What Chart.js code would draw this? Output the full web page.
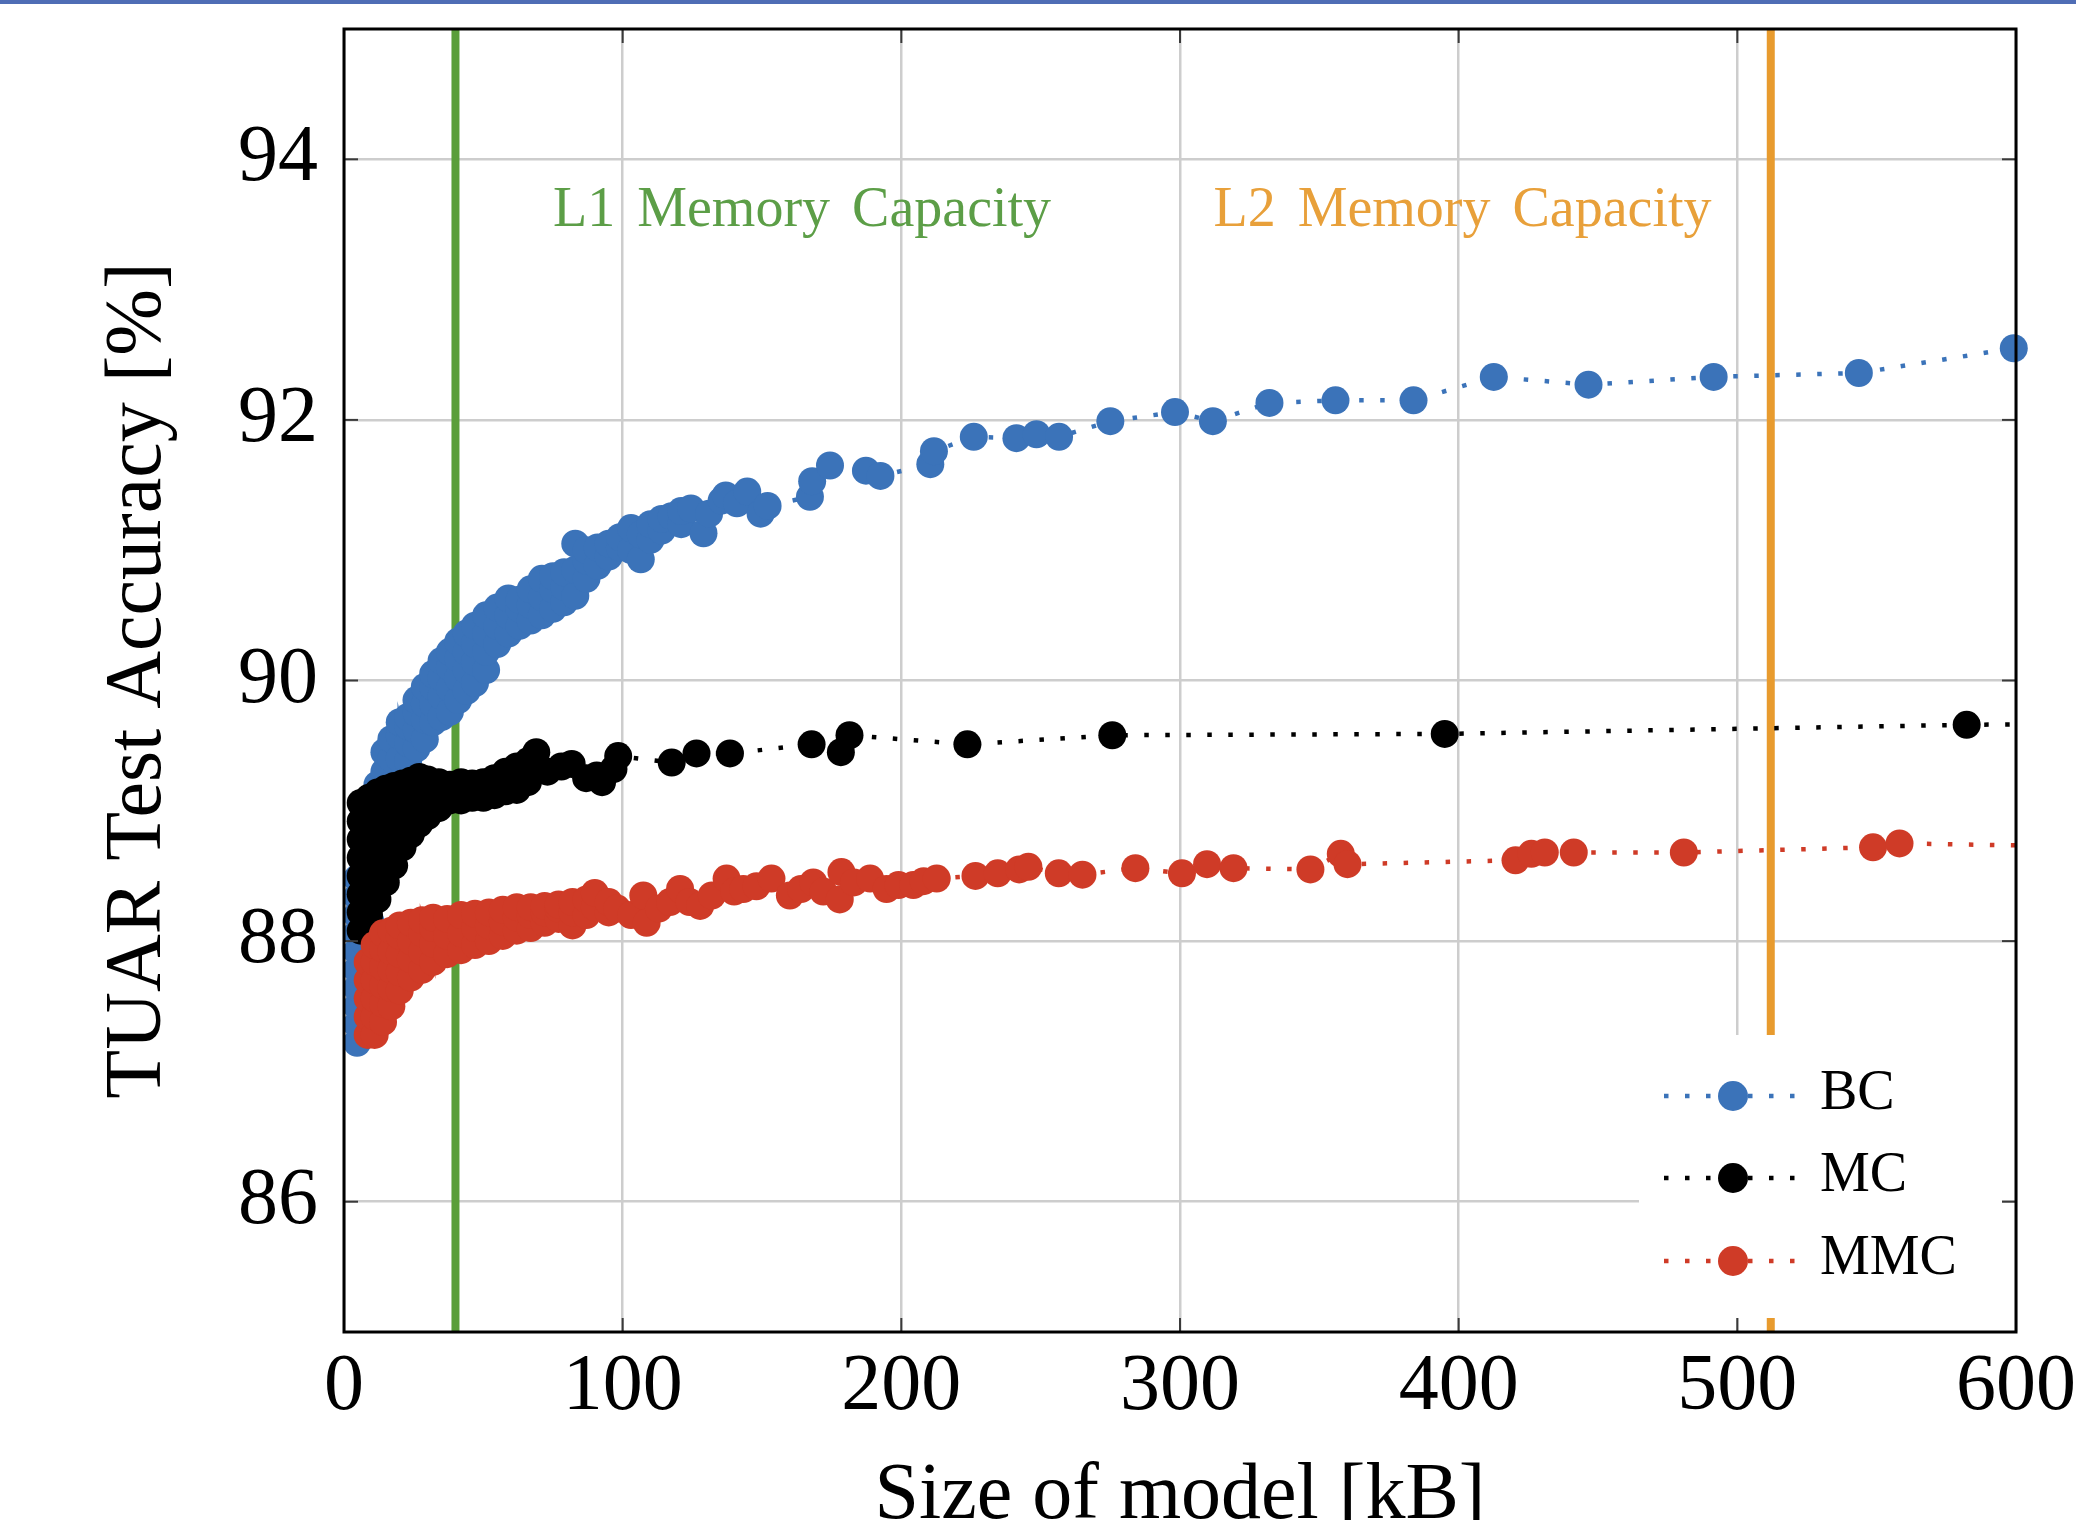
<!DOCTYPE html>
<html>
<head>
<meta charset="utf-8">
<script src="https://cdn.jsdelivr.net/npm/chart.js@4.4.1/dist/chart.umd.min.js"></script>
<style>
  html, body { margin: 0; padding: 0; background: #ffffff; overflow: hidden; }
  #wrap { position: relative; width: 2076px; height: 1520px; }
  #topbar { position: absolute; left: 0; top: 0; width: 2076px; height: 4px; background: #4f6db5; }
  canvas { position: absolute; left: 0; top: 0; }
</style>
</head>
<body>
<div id="wrap">
  <canvas id="c" width="2076" height="1520"></canvas>
  <div id="topbar"></div>
</div>
<script>
// ---------------- DATA ----------------
const seriesNames = ['BC', 'MC', 'MMC'];
const xTicks = [0, 100, 200, 300, 400, 500, 600];
const yTicks = [86, 88, 90, 92, 94];
const xTitle = 'Size of model [kB]';
const yTitle = 'TUAR Test Accuracy [%]';
const cacheValues = [40, 512];              // kB
const cacheLabels = ['L1 Memory Capacity', 'L2 Memory Capacity'];

// BC (binary classification) : [size kB, accuracy %]
const BC = [
  [4.7,87.22],[4.7,87.36],[4.7,87.5],[4.7,87.64],[4.7,87.78],[4.7,87.92],[4.7,88.06],[4.7,88.2],[4.7,88.34],[4.7,88.48],
  [7,87.6],[7,87.8],[7,88.0],[7,88.2],[7,88.4],[7,88.6],
  [9.5,88.0],[9.5,88.15],[9.5,88.3],[9.5,88.5],[9.5,88.7],[9.5,88.9],
  [12,88.4],[12,88.6],[12,88.8],[12,89.0],[12,89.2],
  [14.5,88.7],[14.5,88.9],[14.5,89.1],[14.5,89.3],[14.5,89.45],
  [17,89.0],[17,89.2],[17,89.4],[17,89.55],
  [20,89.2],[20,89.4],[20,89.58],[20,89.68],
  [23,89.38],[23,89.52],[23,89.65],[23,89.72],
  [26,89.48],[26,89.62],[26,89.75],[26,89.85],
  [29,89.55],[29,89.7],[29,89.82],[29,89.95],
  [32,89.68],[32,89.82],[32,89.95],[32,90.05],
  [35,89.72],[35,89.88],[35,90.02],[35,90.15],
  [38,89.76],[38,89.94],[38,90.1],[38,90.22],
  [41,89.85],[41,90.02],[41,90.17],[41,90.3],
  [44,89.92],[44,90.08],[44,90.22],[44,90.36],
  [47,89.98],[47,90.14],[47,90.28],[47,90.42],
  [51,90.08],[51,90.22],[51,90.36],[51,90.5],
  [55,90.28],[55,90.42],[55,90.56],
  [59,90.36],[59,90.5],[59,90.63],
  [63,90.42],[63,90.55],[63,90.62],
  [67,90.46],[67,90.58],[67,90.7],
  [71,90.5],[71,90.64],[71,90.78],
  [75,90.55],[75,90.7],[75,90.8],
  [79,90.6],[79,90.72],[79,90.83],
  [83,90.65],[83,90.85],[83,91.05],
  [87,90.78],[87,90.92],[87,91.0],
  [91,90.88],[91,91.02],
  [95,90.95],[95,91.05],
  [99,91.02],[99,91.1],
  [103,91.0],[103,91.17],
  [106.5,90.93],[106.5,91.12],
  [110,91.08],[110,91.2],
  [114,91.15],[114,91.24],
  [117.5,91.26],
  [121,91.2],[121,91.3],
  [124.5,91.32],[129,91.13],[131,91.28],[135.5,91.38],[137,91.42],[141,91.36],
  [144.7,91.45],[149.5,91.28],[152,91.34],[167.2,91.41],[168,91.53],[174.4,91.65],
  [187.3,91.61],[192.5,91.57],[210.4,91.66],[211.7,91.76],[226,91.87],[241.3,91.86],
  [248.5,91.89],[256.6,91.87],[275,91.99],[298.2,92.06],[311.8,91.99],[332.1,92.13],
  [355.8,92.15],[383.8,92.15],[412.6,92.33],[446.6,92.27],[491.5,92.33],[543.6,92.36],
  [599.2,92.55]
];

// MC (multi-class)
const MC = [
  [6,88.08],[6,88.22],[6,88.36],[6,88.5],[6,88.64],[6,88.78],[6,88.92],[6,89.06],
  [9,88.2],[9,88.34],[9,88.48],[9,88.62],[9,88.76],[9,88.9],[9,89.04],[9,89.1],
  [12,88.32],[12,88.46],[12,88.6],[12,88.74],[12,88.88],[12,89.02],[12,89.14],
  [15,88.45],[15,88.59],[15,88.73],[15,88.87],[15,89.01],[15,89.17],
  [18,88.58],[18,88.72],[18,88.86],[18,89.0],[18,89.14],[18,89.19],
  [21,88.72],[21,88.86],[21,89.0],[21,89.14],[21,89.21],
  [24,88.82],[24,88.96],[24,89.1],[24,89.23],
  [27,88.9],[27,89.04],[27,89.16],[27,89.26],
  [30,88.96],[30,89.1],[30,89.24],
  [34,89.02],[34,89.14],[34,89.22],
  [38,89.08],[38,89.2],
  [42,89.08],[42,89.22],
  [46,89.1],[46,89.21],
  [50,89.1],[50,89.22],
  [54,89.12],[54,89.25],
  [58,89.15],[58,89.3],
  [62,89.16],[62,89.34],
  [66,89.22],[66,89.38],
  [69,89.45],[73,89.3],[78,89.34],[81.7,89.36],[86.9,89.25],[90.7,89.27],[92.6,89.22],
  [96.7,89.32],[98.4,89.42],[117.6,89.37],[126.5,89.44],[138.5,89.44],[167.8,89.51],
  [178.3,89.45],[181.4,89.58],[223.7,89.51],[275.7,89.58],[395,89.59],[582.3,89.66],
  [640,89.67]
];

// MMC
const MMC = [
  [8.5,87.28],[8.5,87.42],[8.5,87.56],[8.5,87.7],[8.5,87.84],
  [11,87.28],[11,87.42],[11,87.56],[11,87.7],[11,87.84],[11,87.97],
  [14,87.38],[14,87.52],[14,87.66],[14,87.8],[14,87.94],[14,88.06],
  [17,87.5],[17,87.64],[17,87.78],[17,87.92],[17,88.08],
  [20,87.62],[20,87.76],[20,87.9],[20,88.04],[20,88.12],
  [24,87.72],[24,87.86],[24,88.0],[24,88.14],
  [28,87.78],[28,87.92],[28,88.06],[28,88.16],
  [32,87.84],[32,87.98],[32,88.1],[32,88.18],
  [37,87.9],[37,88.04],[37,88.17],
  [42,87.93],[42,88.06],[42,88.2],
  [47,87.97],[47,88.1],[47,88.21],
  [52,88.0],[52,88.12],[52,88.22],
  [57,88.04],[57,88.15],[57,88.24],
  [62,88.08],[62,88.18],[62,88.26],
  [67,88.1],[67,88.2],[67,88.26],
  [72,88.14],[72,88.22],[72,88.27],
  [77,88.17],[77,88.25],[77,88.28],
  [82,88.12],[82,88.22],[82,88.3],
  [87,88.2],[87,88.32],
  [90,88.26],[90,88.37],
  [95,88.22],[95,88.3],
  [98,88.25],[103,88.2],[107.4,88.35],[108.6,88.14],[113,88.25],[117,88.3],[120.6,88.4],
  [124,88.3],[127.8,88.27],[132,88.35],[137.3,88.48],[140,88.38],[143.3,88.4],[148,88.42],
  [153.4,88.48],[160,88.35],[164,88.4],[168.4,88.45],[172,88.38],[177.9,88.32],[178.5,88.53],
  [183,88.45],[188.8,88.48],[194.7,88.4],[199,88.43],[204.3,88.43],[208,88.46],[212.7,88.48],
  [226.6,88.5],[234.6,88.52],[242.3,88.55],[245.6,88.57],[256.5,88.52],[265,88.51],[284,88.56],
  [300.7,88.52],[309.7,88.59],[319.2,88.56],[346.8,88.55],[357.7,88.67],[360.1,88.59],
  [420.4,88.62],[426.1,88.67],[430.9,88.68],[441.3,88.68],[480.8,88.68],[548.7,88.72],
  [558.2,88.75],[640,88.72]
];

// ---------------- STYLE ----------------
const COLORS = { BC: '#3b73b9', MC: '#000000', MMC: '#cf3b27' };
const CACHE_COLORS = ['#5a9e3a', '#e89b2e'];
const CACHE_TEXT_COLORS = ['#5c9e47', '#e8a03a'];
const CACHE_LABEL_POS = [{x: 75, y: 93.49}, {x: 312, y: 93.49}];   // left start, baseline
const SERIF = '"Liberation Serif", "Times New Roman", serif';

function makeDataset(name, pts, order, clipRight) {
  const c = COLORS[name];
  return {
    label: name,
    data: pts.map(p => ({x: p[0], y: p[1]})),
    showLine: true,
    borderColor: c,
    backgroundColor: c,
    borderWidth: 4.5,
    borderDash: [4.5, 16.5],
    borderCapStyle: 'butt',
    pointRadius: 14,
    pointHoverRadius: 14,
    pointBorderWidth: 0,
    pointBackgroundColor: c,
    tension: 0,
    order: order,
    clip: {left: 14, top: 14, bottom: 14, right: clipRight}
  };
}

const overlayPlugin = {
  id: 'overlay',
  beforeDatasetsDraw(chart) {
    const {ctx, chartArea: a, scales: {x, y}} = chart;
    ctx.save();
    ctx.beginPath(); ctx.rect(a.left, a.top, a.right - a.left, a.bottom - a.top); ctx.clip();
    cacheValues.forEach((v, i) => {
      const px = x.getPixelForValue(v);
      ctx.strokeStyle = CACHE_COLORS[i];
      ctx.lineWidth = 8;
      ctx.setLineDash([]);
      ctx.beginPath(); ctx.moveTo(px, a.top); ctx.lineTo(px, a.bottom); ctx.stroke();
      ctx.fillStyle = CACHE_TEXT_COLORS[i];
      ctx.font = '56px ' + SERIF;
      try { ctx.wordSpacing = '8px'; } catch (e) {}
      ctx.textAlign = 'left';
      ctx.textBaseline = 'alphabetic';
      ctx.fillText(cacheLabels[i], x.getPixelForValue(CACHE_LABEL_POS[i].x), y.getPixelForValue(CACHE_LABEL_POS[i].y));
    });
    ctx.restore();
  },
  afterDatasetsDraw(chart) {
    const {ctx, chartArea: a, scales: {x, y}} = chart;
    ctx.save();
    // legend box
    const bx = 1639, by = 1035, bw = 363, bh = 283;
    ctx.fillStyle = '#ffffff';
    ctx.fillRect(bx, by, bw, bh);
    const rows = [1096, 1178, 1261];
    const series = [BC, MC, MMC];
    seriesNames.forEach((name, i) => {
      const c = COLORS[name];
      const ry = rows[i];
      ctx.strokeStyle = c;
      ctx.lineWidth = 4.5;
      ctx.setLineDash([4.5, 16.5]);
      ctx.beginPath(); ctx.moveTo(1664, ry); ctx.lineTo(1796, ry); ctx.stroke();
      ctx.setLineDash([]);
      ctx.fillStyle = c;
      ctx.beginPath(); ctx.arc(1733, ry, 15, 0, Math.PI * 2); ctx.fill();
      ctx.fillStyle = '#000000';
      ctx.font = '56px ' + SERIF;
      ctx.textAlign = 'left';
      ctx.textBaseline = 'alphabetic';
      ctx.fillText(name, 1820, ry + 13);
    });
    // inner tick marks
    ctx.strokeStyle = '#3a3a3a';
    ctx.lineWidth = 2;
    ctx.setLineDash([]);
    yTicks.forEach(v => {
      const py = y.getPixelForValue(v);
      ctx.beginPath(); ctx.moveTo(a.left, py); ctx.lineTo(a.left + 14, py); ctx.stroke();
      ctx.beginPath(); ctx.moveTo(a.right, py); ctx.lineTo(a.right - 14, py); ctx.stroke();
    });
    xTicks.forEach(v => {
      const px = x.getPixelForValue(v);
      ctx.beginPath(); ctx.moveTo(px, a.bottom); ctx.lineTo(px, a.bottom - 14); ctx.stroke();
      ctx.beginPath(); ctx.moveTo(px, a.top); ctx.lineTo(px, a.top + 14); ctx.stroke();
    });
    // frame
    ctx.strokeStyle = '#000000';
    ctx.lineWidth = 3;
    ctx.strokeRect(a.left, a.top, a.right - a.left, a.bottom - a.top);
    ctx.restore();
  }
};

new Chart(document.getElementById('c'), {
  type: 'scatter',
  data: {
    datasets: [
      makeDataset('BC', BC, 3, 14),
      makeDataset('MC', MC, 2, 0),
      makeDataset('MMC', MMC, 1, 0)
    ]
  },
  options: {
    responsive: false,
    animation: false,
    devicePixelRatio: 1,
    events: [],
    layout: { padding: { top: 29, right: 60, left: 0, bottom: 0 } },
    plugins: { legend: { display: false }, tooltip: { enabled: false } },
    scales: {
      x: {
        type: 'linear', min: 0, max: 600,
        afterBuildTicks: s => { s.ticks = xTicks.map(v => ({value: v})); },
        afterFit: s => { s.height = 188; s.paddingLeft = 0; s.paddingRight = 0; },
        grid: { color: '#cdcdcd', lineWidth: 2.5, drawTicks: false },
        border: { display: false },
        ticks: { padding: 8, color: '#000', autoSkip: false, maxRotation: 0,
                 font: { family: SERIF, size: 80 } },
        title: { display: true, text: xTitle, color: '#000',
                 font: { family: SERIF, size: 80, lineHeight: 0.55 },
                 padding: { top: 0, bottom: 1 } }
      },
      y: {
        type: 'linear', min: 85, max: 95,
        afterBuildTicks: s => { s.ticks = yTicks.map(v => ({value: v})); },
        afterFit: s => { s.width = 344; s.paddingTop = 0; s.paddingBottom = 0; },
        grid: { color: '#cdcdcd', lineWidth: 2.5, drawTicks: false },
        border: { display: false },
        ticks: { padding: 26, color: '#000', font: { family: SERIF, size: 80 } },
        title: { display: true, text: yTitle, color: '#000',
                 font: { family: SERIF, size: 80 },
                 padding: { top: 91, bottom: 0 } }
      }
    }
  },
  plugins: [overlayPlugin]
});
</script>
</body>
</html>
